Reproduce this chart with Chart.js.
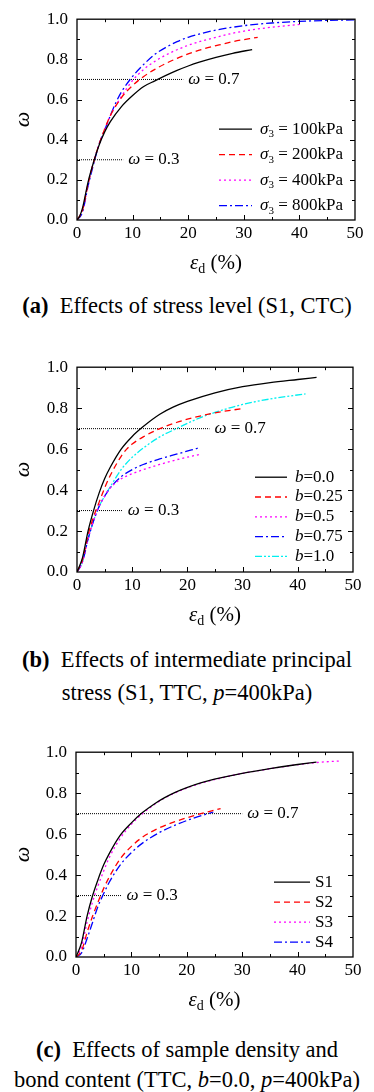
<!DOCTYPE html>
<html>
<head>
<meta charset="utf-8">
<script src="https://cdn.jsdelivr.net/npm/chart.js@4.4.1/dist/chart.umd.min.js"></script>
<style>
body { margin: 0; background: #fff; width: 374px; height: 1092px; position: relative; overflow: hidden; font-family: "Liberation Serif", serif; }
canvas { position: absolute; left: 0; }
.cap { position: absolute; left: 0; width: 374px; text-align: center; font-size: 22.5px; line-height: 26px; white-space: nowrap; color: #000; }
</style>
</head>
<body>
<canvas id="chartA" width="374" height="280" style="top:0px"></canvas>
<div class="cap" style="top:293px"><b>(a)</b>&nbsp; Effects of stress level (S1, CTC)</div>
<canvas id="chartB" width="374" height="284" style="top:348px"></canvas>
<div class="cap" style="top:647px"><b>(b)</b>&nbsp; Effects of intermediate principal</div>
<div class="cap" style="top:680px">stress (S1, TTC, <i>p</i>=400kPa)</div>
<canvas id="chartC" width="374" height="284" style="top:733px"></canvas>
<div class="cap" style="top:1037px"><b>(c)</b>&nbsp; Effects of sample density and</div>
<div class="cap" style="top:1067px">bond content (TTC, <i>b</i>=0.0, <i>p</i>=400kPa)</div>

<script>
// (a) stress level, S1, CTC
const strainA100 = [0, 0.5, 1, 2, 3, 4, 5, 6, 8, 10, 12, 14, 16, 18, 20, 22, 25, 28, 31.5];
const omegaA100  = [0, 0.02, 0.06, 0.19, 0.29, 0.375, 0.44, 0.49, 0.565, 0.62, 0.665, 0.693, 0.72, 0.745, 0.767, 0.786, 0.81, 0.83, 0.849];
const strainA200 = [0, 1, 2, 3, 4, 5, 6, 8, 10, 12, 14, 16, 18, 20, 22.5, 25, 28, 32.5];
const omegaA200  = [0, 0.05, 0.18, 0.29, 0.38, 0.455, 0.52, 0.61, 0.67, 0.715, 0.75, 0.78, 0.805, 0.827, 0.85, 0.868, 0.888, 0.91];
const strainA400 = [0, 1, 2, 3, 4, 5, 6, 8, 10, 12, 14, 16, 18, 20, 22.5, 25, 28, 31, 35, 40.5];
const omegaA400  = [0, 0.05, 0.18, 0.29, 0.38, 0.45, 0.52, 0.615, 0.695, 0.75, 0.79, 0.822, 0.848, 0.87, 0.892, 0.91, 0.93, 0.945, 0.96, 0.975];
const strainA800 = [0, 1, 2, 3, 4, 5, 6, 7, 8, 10, 12, 14, 16, 18, 20, 22.5, 25, 28, 31, 35, 40, 45, 50];
const omegaA800  = [0, 0.04, 0.17, 0.28, 0.38, 0.45, 0.52, 0.585, 0.638, 0.715, 0.775, 0.825, 0.86, 0.888, 0.91, 0.93, 0.946, 0.96, 0.971, 0.981, 0.989, 0.994, 0.997];

// (b) intermediate principal stress, S1, TTC, p=400kPa
const strainB000 = [0, 1, 2, 3, 4, 5, 6, 8, 10, 12, 15, 17.5, 20, 25, 30, 35, 40, 43.4];
const omegaB000  = [0, 0.07, 0.2, 0.3, 0.385, 0.455, 0.51, 0.6, 0.662, 0.71, 0.77, 0.806, 0.833, 0.875, 0.905, 0.925, 0.94, 0.95];
const strainB025 = [0, 1, 2, 3, 4, 5, 6, 8, 9, 10, 12, 15, 18, 21, 25, 29.7];
const omegaB025  = [0, 0.06, 0.18, 0.27, 0.34, 0.41, 0.47, 0.565, 0.6, 0.625, 0.66, 0.7, 0.73, 0.753, 0.777, 0.797];
const strainB050 = [0, 1, 2, 3, 4, 5, 6, 8, 10, 12, 15, 18, 22.2];
const omegaB050  = [0, 0.05, 0.16, 0.25, 0.32, 0.37, 0.41, 0.455, 0.48, 0.5, 0.525, 0.548, 0.574];
const strainB075 = [0, 1, 2, 3, 4, 5, 6, 8, 10, 12, 15, 18, 22.2];
const omegaB075  = [0, 0.05, 0.16, 0.25, 0.32, 0.37, 0.41, 0.465, 0.5, 0.525, 0.552, 0.575, 0.607];
const strainB100 = [0, 1, 2, 3, 4, 5, 6, 8, 10, 12, 15, 18, 22, 26, 30, 35, 41.4];
const omegaB100  = [0, 0.05, 0.16, 0.25, 0.32, 0.37, 0.415, 0.5, 0.56, 0.605, 0.66, 0.7, 0.75, 0.788, 0.818, 0.845, 0.87];

// (c) sample density and bond content, TTC, b=0.0, p=400kPa
const strainS1 = [0, 1, 2, 3, 4, 5, 6, 8, 10, 12, 14, 16, 18, 20, 22.5, 25, 30, 35, 40, 43.4];
const omegaS1  = [0, 0.07, 0.2, 0.3, 0.38, 0.45, 0.505, 0.595, 0.655, 0.705, 0.745, 0.778, 0.805, 0.827, 0.85, 0.868, 0.897, 0.92, 0.94, 0.952];
const strainS2 = [0, 1, 2, 3, 4, 5, 6, 8, 10, 12, 15, 18, 21, 24, 26.1];
const omegaS2  = [0, 0.03, 0.12, 0.2, 0.27, 0.335, 0.39, 0.48, 0.54, 0.585, 0.63, 0.662, 0.688, 0.71, 0.725];
const strainS3 = [0, 1, 2, 3, 4, 5, 6, 8, 10, 12, 14, 16, 18, 20, 22.5, 25, 30, 35, 40, 44, 47.7];
const omegaS3  = [0, 0.05, 0.17, 0.27, 0.35, 0.42, 0.485, 0.58, 0.648, 0.7, 0.742, 0.776, 0.803, 0.825, 0.848, 0.866, 0.896, 0.919, 0.939, 0.951, 0.957];
const strainS4 = [0, 1, 2, 3, 4, 5, 6, 8, 10, 12, 15, 18, 21, 24.8];
const omegaS4  = [0, 0.02, 0.09, 0.17, 0.25, 0.31, 0.365, 0.45, 0.51, 0.556, 0.607, 0.645, 0.676, 0.708];

// tick labels
const xTicks = [0, 10, 20, 30, 40, 50];
const yTicks = [0.0, 0.2, 0.4, 0.6, 0.8, 1.0];

// reference levels: omega value and where the dotted line stops
const refOmega = [0.7, 0.3];
const refEndA = [19.1, 8.3];
const refEndB = [24.0, 8.3];
const refEndC = [30.0, 8.2];

const FONT = '"Liberation Serif", "Times New Roman", serif';
const DASH = {
    solid: [],
    dash: [6, 4],
    dot: [2, 3],
    dashDot: [8, 3, 2, 3],
    dashDotDot: [7, 2, 2, 2, 2, 2]
};

// draw a run of text parts: [text, 'n' | 'i' | 's'] (normal, italic, subscript)
function drawParts(ctx, x, y, parts, size) {
    let cx = x;
    ctx.textBaseline = 'middle';
    ctx.textAlign = 'left';
    parts.forEach(p => {
        const [txt, st] = p;
        if (st === 's') {
            ctx.font = Math.round(size * 0.65) + 'px ' + FONT;
            ctx.fillText(txt, cx, y + size * 0.3);
        } else {
            ctx.font = (st === 'i' ? 'italic ' : '') + size + 'px ' + FONT;
            ctx.fillText(txt, cx, y);
        }
        cx += ctx.measureText(txt).width;
    });
    return cx - x;
}

function partsWidth(ctx, parts, size) {
    let w = 0;
    parts.forEach(p => {
        const [txt, st] = p;
        ctx.font = (st === 'i' ? 'italic ' : '') + (st === 's' ? Math.round(size * 0.65) : size) + 'px ' + FONT;
        w += ctx.measureText(txt).width;
    });
    return w;
}

const figurePlugin = {
    id: 'figure',
    afterDraw(chart, args, opts) {
        const ctx = chart.ctx;
        const a = chart.chartArea;
        const xs = chart.scales.x, ys = chart.scales.y;
        ctx.save();
        ctx.fillStyle = '#000';
        ctx.strokeStyle = '#000';
        ctx.setLineDash([]);

        // frame
        ctx.lineWidth = 1.3;
        ctx.strokeRect(a.left, a.top, a.right - a.left, a.bottom - a.top);

        // inward ticks on all four sides
        ctx.lineWidth = 1;
        ctx.beginPath();
        for (let v = 5; v < 50; v += 5) {
            const px = Math.round(xs.getPixelForValue(v)) + 0.5;
            const len = v % 10 === 0 ? 5 : 3;
            ctx.moveTo(px, a.bottom); ctx.lineTo(px, a.bottom - len);
            ctx.moveTo(px, a.top); ctx.lineTo(px, a.top + len);
        }
        for (let i = 1; i < 10; i++) {
            const py = Math.round(ys.getPixelForValue(i / 10)) + 0.5;
            const len = i % 2 === 0 ? 5 : 3;
            ctx.moveTo(a.left, py); ctx.lineTo(a.left + len, py);
            ctx.moveTo(a.right, py); ctx.lineTo(a.right - len, py);
        }
        ctx.stroke();

        // reference labels
        opts.refs.forEach(r => {
            const px = xs.getPixelForValue(r.end) + 5;
            const py = ys.getPixelForValue(r.w);
            drawParts(ctx, px, py, [['ω', 'i'], [' = ' + r.w.toFixed(1), 'n']], 17);
        });

        // legend inside the plot
        const lg = opts.legend;
        chart.data.datasets.slice(0, lg.labels.length).forEach((ds, i) => {
            const y = a.top + lg.top + i * lg.step;
            ctx.strokeStyle = ds.borderColor;
            ctx.lineWidth = 1.3;
            ctx.setLineDash(ds.borderDash || []);
            ctx.beginPath();
            ctx.moveTo(lg.x1, y); ctx.lineTo(lg.x2, y);
            ctx.stroke();
            ctx.setLineDash([]);
            ctx.fillStyle = '#000';
            drawParts(ctx, lg.tx, y, lg.labels[i], lg.size);
        });

        // x title: eps_d (%)
        const xt = [['ε', 'i'], ['d', 's'], [' (%)', 'n']];
        const w = partsWidth(ctx, xt, 21);
        drawParts(ctx, (a.left + a.right) / 2 - w / 2, a.bottom + 43, xt, 21);

        // y title: omega
        ctx.save();
        ctx.translate(23, (a.top + a.bottom) / 2);
        ctx.rotate(-Math.PI / 2);
        ctx.font = 'italic 22px ' + FONT;
        ctx.textAlign = 'center';
        ctx.textBaseline = 'middle';
        ctx.fillText('ω', 0, 0);
        ctx.restore();

        ctx.restore();
    }
};

function series(xArr, yArr, color, dash) {
    return {
        data: xArr.map((v, i) => ({ x: v, y: yArr[i] })),
        borderColor: color,
        borderDash: dash,
        borderWidth: 1.3,
        showLine: true,
        pointRadius: 0,
        cubicInterpolationMode: 'monotone',
        fill: false
    };
}

function refLine(w, end) {
    return {
        data: [{ x: 0, y: w }, { x: end, y: w }],
        borderColor: '#000',
        borderDash: [1, 1],
        borderWidth: 1,
        showLine: true,
        pointRadius: 0,
        fill: false
    };
}

function makeChart(id, curves, refEnds, legend, box) {
    const refs = refOmega.map((w, i) => ({ w: w, end: refEnds[i] }));
    new Chart(document.getElementById(id), {
        type: 'scatter',
        data: { datasets: curves.concat(refs.map(r => refLine(r.w, r.end))) },
        options: {
            responsive: false,
            animation: false,
            devicePixelRatio: 1,
            layout: { padding: { top: 15, right: 374 - box.right, left: 0, bottom: 0 } },
            plugins: {
                legend: { display: false },
                tooltip: { enabled: false },
                figure: { refs: refs, legend: legend }
            },
            scales: {
                x: {
                    type: 'linear', min: 0, max: 50,
                    grid: { display: false, drawTicks: false },
                    border: { display: false },
                    afterBuildTicks: s => { s.ticks = xTicks.map(v => ({ value: v })); },
                    ticks: { color: '#000', font: { family: FONT, size: 17 }, padding: 3, maxRotation: 0 },
                    afterFit: s => { s.height = box.xh; }
                },
                y: {
                    type: 'linear', min: 0, max: 1,
                    grid: { display: false, drawTicks: false },
                    border: { display: false },
                    afterBuildTicks: s => { s.ticks = yTicks.map(v => ({ value: v })); },
                    ticks: { color: '#000', font: { family: FONT, size: 17 }, padding: 9, callback: v => v.toFixed(1) },
                    afterFit: s => { s.width = box.left; }
                }
            }
        },
        plugins: [figurePlugin]
    });
}

makeChart('chartA', [
    series(strainA100, omegaA100, '#000000', DASH.solid),
    series(strainA200, omegaA200, '#ff0000', DASH.dash),
    series(strainA400, omegaA400, '#ff00ff', DASH.dot),
    series(strainA800, omegaA800, '#0000ff', DASH.dashDot)
], refEndA, {
    top: 110, step: 25.5, x1: 219, x2: 252, tx: 260, size: 17,
    labels: [
        [['σ', 'i'], ['3', 's'], [' = 100kPa', 'n']],
        [['σ', 'i'], ['3', 's'], [' = 200kPa', 'n']],
        [['σ', 'i'], ['3', 's'], [' = 400kPa', 'n']],
        [['σ', 'i'], ['3', 's'], [' = 800kPa', 'n']]
    ]
}, { left: 77, right: 355, xh: 60 });

makeChart('chartB', [
    series(strainB000, omegaB000, '#000000', DASH.solid),
    series(strainB025, omegaB025, '#ff0000', DASH.dash),
    series(strainB050, omegaB050, '#ff00ff', DASH.dot),
    series(strainB075, omegaB075, '#0000ff', DASH.dashDot),
    series(strainB100, omegaB100, '#00f0f0', DASH.dashDotDot)
], refEndB, {
    top: 110, step: 19.8, x1: 255, x2: 287, tx: 295, size: 17,
    labels: [
        [['b', 'i'], ['=0.0', 'n']],
        [['b', 'i'], ['=0.25', 'n']],
        [['b', 'i'], ['=0.5', 'n']],
        [['b', 'i'], ['=0.75', 'n']],
        [['b', 'i'], ['=1.0', 'n']]
    ]
}, { left: 77, right: 353, xh: 60 });

makeChart('chartC', [
    series(strainS1, omegaS1, '#000000', DASH.solid),
    series(strainS2, omegaS2, '#ff0000', DASH.dash),
    series(strainS3, omegaS3, '#ff00ff', DASH.dot),
    series(strainS4, omegaS4, '#0000ff', DASH.dashDot)
], refEndC, {
    top: 130, step: 20, x1: 274, x2: 310, tx: 315, size: 17,
    labels: [
        [['S1', 'n']],
        [['S2', 'n']],
        [['S3', 'n']],
        [['S4', 'n']]
    ]
}, { left: 76, right: 353, xh: 60 });
</script>
</body>
</html>
